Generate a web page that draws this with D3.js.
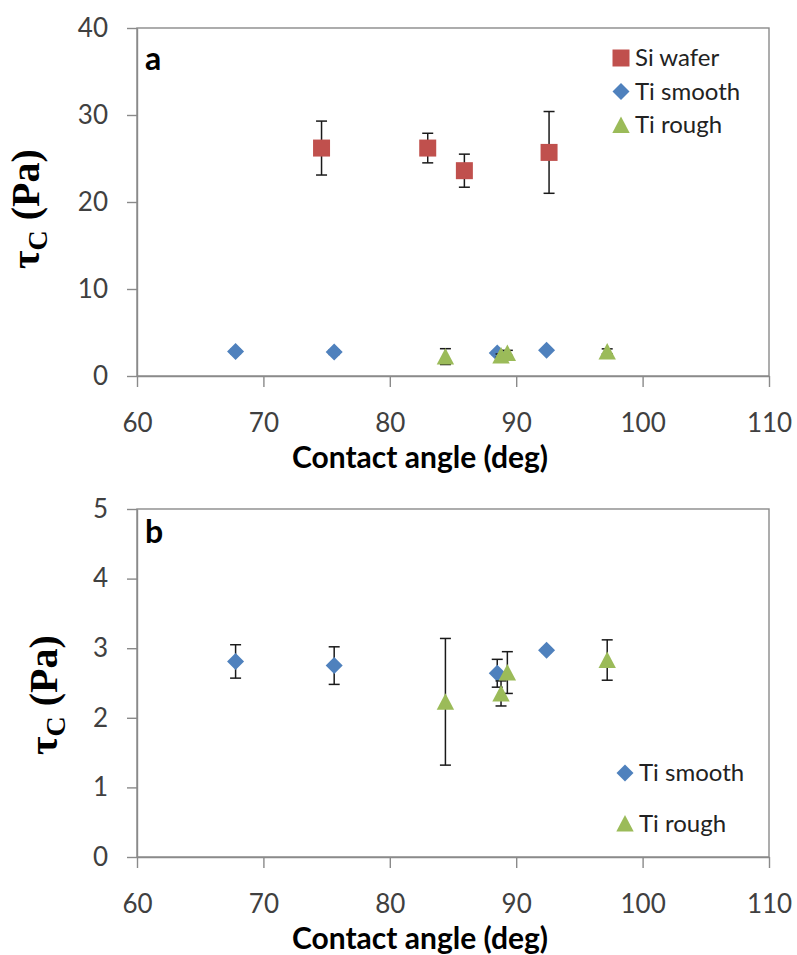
<!DOCTYPE html>
<html>
<head>
<meta charset="utf-8">
<script src="https://cdn.jsdelivr.net/npm/d3@7"></script>
<style>
  html, body { margin: 0; padding: 0; background: #fff; }
  svg { display: block; }
</style>
</head>
<body>
<svg id="chart" width="797" height="955"></svg>
<script>
// Critical shear stress vs. water contact angle for three substrates
const xTicks = [60, 70, 80, 90, 100, 110];
const yTicksA = [0, 10, 20, 30, 40];
const yTicksB = [0, 1, 2, 3, 4, 5];

// Si wafer
const siAngle = [74.6, 83.0, 85.9, 92.6];
const siTau   = [26.2, 26.2, 23.6, 25.7];
const siErr   = [3.1, 1.7, 1.9, 4.7];

// Ti smooth
const tsAngle = [67.8, 75.6, 88.5, 92.4];
const tsTau   = [2.81, 2.75, 2.64, 2.97];
const tsErr   = [0.24, 0.27, 0.20, 0.03];

// Ti rough
const trAngle = [84.4, 88.8, 89.3, 97.2];
const trTau   = [2.23, 2.35, 2.65, 2.83];
const trErr   = [0.91, 0.18, 0.30, 0.29];

const series = {
  si: { name: "Si wafer",  color: "#C0504D", shape: "square",   x: siAngle, y: siTau, e: siErr },
  ts: { name: "Ti smooth", color: "#4F81BD", shape: "diamond",  x: tsAngle, y: tsTau, e: tsErr },
  tr: { name: "Ti rough",  color: "#9BBB59", shape: "triangle", x: trAngle, y: trTau, e: trErr }
};

const svg = d3.select("#chart");
const axisColor = "#8a8a8a";
const sansFont = "Lato, 'Open Sans', sans-serif";

function markerPath(shape) {
  if (shape === "square")  return "M-8.5,-8.5H8.5V8.5H-8.5Z";
  if (shape === "diamond") return "M0,-8.5L8.5,0L0,8.5L-8.5,0Z";
  return "M0,-8.5L8.7,8L-8.7,8Z";
}

function drawPanel(p) {
  const x = d3.scaleLinear().domain([60, 110]).range([p.left, p.right]);
  const y = d3.scaleLinear().domain(p.yDomain).range([p.bottom, p.top]);
  const g = svg.append("g");

  // plot-area frame
  g.append("rect")
    .attr("x", p.left).attr("y", p.top)
    .attr("width", p.right - p.left).attr("height", p.bottom - p.top)
    .attr("fill", "none").attr("stroke", axisColor).attr("stroke-width", 1.4);

  // x axis
  const gx = g.append("g").attr("transform", `translate(0,${p.bottom})`)
    .call(d3.axisBottom(x).tickValues(xTicks).tickSize(11).tickSizeOuter(0));
  gx.select(".domain").attr("stroke", axisColor).attr("stroke-width", 1.4);
  gx.selectAll(".tick line").attr("stroke", axisColor).attr("stroke-width", 1.4);
  gx.selectAll(".tick text")
    .attr("y", 56).attr("dy", null)
    .attr("font-family", sansFont).attr("font-size", 26).attr("fill", "#404040");

  // y axis
  const gy = g.append("g").attr("transform", `translate(${p.left},0)`)
    .call(d3.axisLeft(y).tickValues(p.yTicks).tickFormat(d3.format("d"))
      .tickSize(10).tickPadding(19).tickSizeOuter(0));
  gy.select(".domain").attr("stroke", axisColor).attr("stroke-width", 1.4);
  gy.selectAll(".tick line").attr("stroke", axisColor).attr("stroke-width", 1.4);
  gy.selectAll(".tick text")
    .attr("font-family", sansFont).attr("font-size", 26).attr("fill", "#404040");

  // axis titles
  g.append("text")
    .attr("x", p.xTitleX).attr("y", p.bottom + 92)
    .attr("text-anchor", "middle")
    .attr("font-family", sansFont).attr("font-weight", "bold").attr("font-size", 30)
    .attr("fill", "#000")
    .text("Contact angle (deg)");

  const yt = g.append("text")
    .attr("transform", `translate(${p.yTitleX},${p.yTitleY}) rotate(-90)`)
    .attr("text-anchor", "middle")
    .attr("font-family", "'Liberation Serif', 'Times New Roman', serif")
    .attr("font-weight", "bold").attr("font-size", 40).attr("fill", "#000");
  yt.append("tspan").text("\u03C4");
  yt.append("tspan").attr("font-size", 28).attr("dy", 8).text("C");
  yt.append("tspan").attr("dy", -8).text(" (Pa)");

  // panel letter
  g.append("text")
    .attr("x", p.left + 8).attr("y", p.top + p.letterDy)
    .attr("font-family", sansFont).attr("font-weight", "bold").attr("font-size", 32)
    .attr("fill", "#000")
    .text(p.letter);

  // series: error bars under markers
  p.keys.forEach(k => {
    const s = series[k];
    const pts = s.x.map((v, i) => ({ x: v, y: s.y[i], e: s.e[i] }));
    const eg = g.append("g").attr("stroke", "#1a1a1a").attr("stroke-width", 1.5);
    pts.forEach(d => {
      const cx = x(d.x), y1 = y(d.y + d.e), y2 = y(d.y - d.e);
      eg.append("line").attr("x1", cx).attr("x2", cx).attr("y1", y1).attr("y2", y2);
      eg.append("line").attr("x1", cx - 5.5).attr("x2", cx + 5.5).attr("y1", y1).attr("y2", y1);
      eg.append("line").attr("x1", cx - 5.5).attr("x2", cx + 5.5).attr("y1", y2).attr("y2", y2);
    });
    g.append("g").selectAll("path").data(pts).join("path")
      .attr("transform", d => `translate(${x(d.x)},${y(d.y)})`)
      .attr("d", markerPath(s.shape))
      .attr("fill", s.color);
  });

  // legend
  const lg = g.append("g");
  p.keys.forEach((k, i) => {
    const s = series[k];
    const cy = p.legendY + i * p.legendGap;
    lg.append("path")
      .attr("transform", `translate(${p.legendX},${cy})`)
      .attr("d", markerPath(s.shape))
      .attr("fill", s.color);
    lg.append("text")
      .attr("x", p.legendX + 14).attr("y", cy + 8)
      .attr("font-family", sansFont).attr("font-size", 24).attr("fill", "#222")
      .text(s.name);
  });
}

drawPanel({
  left: 137, right: 769, top: 28, bottom: 376,
  yDomain: [0, 40], yTicks: yTicksA,
  xTitleX: 420, yTitleX: 39, yTitleY: 209,
  letter: "a", letterDy: 42,
  keys: ["si", "ts", "tr"],
  legendX: 621, legendY: 58, legendGap: 33.5
});

drawPanel({
  left: 137, right: 769, top: 509, bottom: 857,
  yDomain: [0, 5], yTicks: yTicksB,
  xTitleX: 420, yTitleX: 57, yTitleY: 695,
  letter: "b", letterDy: 34,
  keys: ["ts", "tr"],
  legendX: 625, legendY: 773, legendGap: 50.5
});
</script>
</body>
</html>
